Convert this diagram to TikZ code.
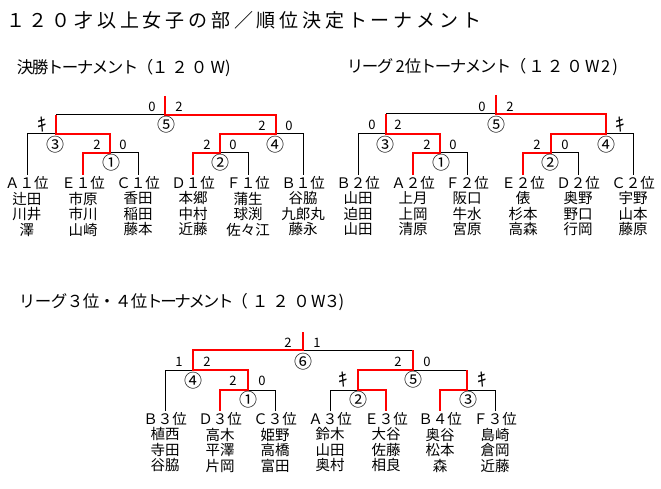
\documentclass[tikz,border=0pt]{standalone}
\usepackage{fontspec}
\setmainfont{Noto Sans CJK JP}
\makeatletter
\def\spc#1#2{\def\spcw{#1}\spc@loop#2\relax}
\def\spc@loop#1{\ifx#1\relax\else\makebox[\spcw][c]{#1}\expandafter\spc@loop\fi}
\makeatother
\begin{document}
\begin{tikzpicture}[x=1pt,y=-1pt,
  lose/.style={line width=1pt,black},
  win/.style={line width=2.8pt,red,line join=miter},
  lbl/.style={font=\fontsize{14.5}{14.5}\selectfont,inner sep=0pt},
  names/.style={font=\fontsize{14.5}{15.5}\selectfont,inner sep=0pt,align=center},
  sc/.style={font=\fontsize{13}{13}\selectfont,inner sep=0pt},
  ki/.style={font=\fontsize{19}{19}\selectfont,inner sep=0pt},
  num/.style={font=\fontsize{18}{18}\selectfont,inner sep=0pt},
  sub/.style={font=\fontsize{16.5}{16.5}\selectfont,inner sep=0pt,anchor=west}]
\useasboundingbox[fill=white] (0,0) rectangle (661,489);

% titles
\node[anchor=west,font=\fontsize{19}{19}\selectfont,inner sep=0pt] (title) at (4,20.5)
  {\spc{22.8pt}{１２０才以上女子の部／順位決定トーナメント}};
\node[sub] (sub1) at (17.5,68) {\spc{15pt}{決勝トーナメント（}\makebox[15pt]{１}\hspace{4.5pt}\makebox[15pt]{２}\hspace{4.5pt}\makebox[15pt]{０}\hspace{4pt}W)};
\node[sub] (sub2) at (347.5,67) {\spc{15pt}{リーグ}\hspace{3pt}\makebox[9pt]{2}\hspace{1pt}\spc{15pt}{位トーナメント（}\hspace{3.5pt}\makebox[15pt]{１}\hspace{3.5pt}\makebox[15pt]{２}\hspace{4.5pt}\makebox[15pt]{０}\hspace{3pt}W\hspace{1.5pt}2\hspace{2pt})};
\node[sub] (sub3) at (19,302) {\spc{16pt}{リーグ３位・４位}\spc{14.2pt}{トーナメント（}\hspace{6pt}\makebox[15pt]{１}\hspace{5.5pt}\makebox[15pt]{２}\hspace{6pt}\makebox[15pt]{０}\hspace{2pt}W\makebox[13pt]{３})};

% ---------- Tournament 1 ----------
\foreach \x/\n/\l/\m in {27/a/Ａ１位/辻田\\川井\\澤, 83/e/Ｅ１位/市原\\市川\\山崎, 138/c/Ｃ１位/香田\\稲田\\藤本,
  193/d/Ｄ１位/本郷\\中村\\近藤, 248/f/Ｆ１位/蒲生\\球渕\\佐々江, 303/b/Ｂ１位/谷脇\\九郎丸\\藤永}{
  \node[lbl] (p1\n) at (\x,182.5) {\l};
  \node[names] (q1\n) at (\x,214) {\m};
  \coordinate (t1\n) at (\x,175);
}
\draw[lose] (t1a) |- (56,134);
\draw[lose] (56,115) -- (165,115);
\draw[lose] (t1c) |- (110,153);
\draw[lose] (t1b) |- (276,134);
\draw[lose] (t1f) |- (220,153);
\draw[win] (165,96) -- (165,115) -- (276,115) -- (276,134) -- (220,134) -- (220,153) -- (193,153) -- (t1d);
\draw[win] (56,115) -- (56,134) -- (110,134) -- (110,153) -- (83,153) -- (t1e);
\node[sc] (s1a) at (152,107) {0};
\node[sc] (s1b) at (179,107) {2};
\node[num] (m1e) at (166,125) {⑤};
\node[ki] (s1c) at (42,125) {ｷ};
\node[sc] (s1d) at (262,126) {2};
\node[sc] (s1e) at (289,126) {0};
\node[num] (m1c) at (55,145) {③};
\node[sc] (s1f) at (97,145) {2};
\node[sc] (s1g) at (123,145) {0};
\node[num] (m1d) at (275,145) {④};
\node[sc] (s1h) at (207,145) {2};
\node[sc] (s1i) at (233,145) {0};
\node[num] (m1a) at (111,163) {①};
\node[num] (m1b) at (220,163) {②};

% ---------- Tournament 2 ----------
\foreach \x/\n/\l/\m in {358/b/Ｂ２位/山田\\迫田\\山田, 413/a/Ａ２位/上月\\上岡\\清原, 467/f/Ｆ２位/阪口\\牛水\\宮原,
  523/e/Ｅ２位/俵\\杉本\\高森, 578/d/Ｄ２位/奥野\\野口\\行岡, 633/c/Ｃ２位/宇野\\山本\\藤原}{
  \node[lbl] (p2\n) at (\x,182.5) {\l};
  \node[names] (q2\n) at (\x,214) {\m};
  \coordinate (t2\n) at (\x,175);
}
\draw[lose] (t2b) |- (386,134);
\draw[lose] (386,114) -- (496,114);
\draw[lose] (t2f) |- (440,153);
\draw[lose] (t2c) |- (606,134);
\draw[lose] (t2d) |- (551,153);
\draw[win] (496,95) -- (496,114) -- (606,114) -- (606,134) -- (551,134) -- (551,153) -- (523,153) -- (t2e);
\draw[win] (386,114) -- (386,134) -- (440,134) -- (440,153) -- (413,153) -- (t2a);
\node[sc] (s2a) at (482,107) {0};
\node[sc] (s2b) at (510,107) {2};
\node[num] (m2e) at (496,125) {⑤};
\node[sc] (s2c) at (372,125) {0};
\node[sc] (s2d) at (398,125) {2};
\node[ki] (s2e) at (620,125) {ｷ};
\node[num] (m2c) at (385,145) {③};
\node[sc] (s2f) at (427,145) {2};
\node[sc] (s2g) at (453,145) {0};
\node[sc] (s2h) at (537,145) {2};
\node[sc] (s2i) at (565,145) {0};
\node[num] (m2d) at (606,145) {④};
\node[num] (m2a) at (441,163) {①};
\node[num] (m2b) at (550,163) {②};

% ---------- Tournament 3 ----------
\foreach \x/\n/\l/\m in {165/b/Ｂ３位/植西\\寺田\\谷脇, 220/d/Ｄ３位/高木\\平澤\\片岡, 275/c/Ｃ３位/姫野\\高橋\\富田,
  330/a/Ａ３位/鈴木\\山田\\奥村, 386/e/Ｅ３位/大谷\\佐藤\\相良, 440/g/Ｂ４位/奥谷\\松本\\森, 495/f/Ｆ３位/島崎\\倉岡\\近藤}{
  \node[lbl] (p3\n) at (\x,418.5) {\l};
  \node[names] (q3\n) at (\x,450) {\m};
  \coordinate (t3\n) at (\x,411);
}
\draw[lose] (t3b) |- (193,370);
\draw[lose] (303,350) -- (413,350);
\draw[lose] (t3c) |- (248,390);
\draw[lose] (t3a) |- (358,390);
\draw[lose] (413,370) -- (467,370);
\draw[lose] (t3f) |- (467,390);
\draw[win] (303,332) -- (303,350) -- (193,350) -- (193,370) -- (248,370) -- (248,390) -- (220,390) -- (t3d);
\draw[win] (413,350) -- (413,370) -- (358,370) -- (358,390) -- (386,390) -- (t3e);
\draw[win] (467,370) -- (467,390) -- (440,390) -- (t3g);
\node[sc] (s3a) at (288,343) {2};
\node[sc] (s3b) at (317,343) {1};
\node[num] (m3f) at (303,362) {⑥};
\node[sc] (s3c) at (179,362) {1};
\node[sc] (s3d) at (207,362) {2};
\node[sc] (s3e) at (398,362) {2};
\node[sc] (s3f) at (427,362) {0};
\node[num] (m3d) at (193,381) {④};
\node[sc] (s3g) at (233,381) {2};
\node[sc] (s3h) at (262,381) {0};
\node[num] (m3e) at (413,380) {⑤};
\node[ki] (s3i) at (343,380) {ｷ};
\node[ki] (s3j) at (482,380) {ｷ};
\node[num] (m3a) at (248,400) {①};
\node[num] (m3b) at (358,400) {②};
\node[num] (m3c) at (468,400) {③};
\end{tikzpicture}
\end{document}
